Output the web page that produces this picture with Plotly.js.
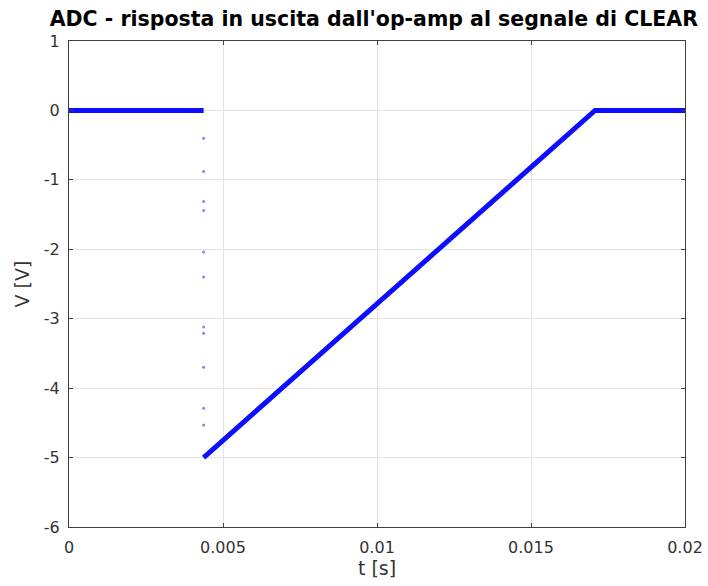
<!DOCTYPE html>
<html>
<head>
<meta charset="utf-8">
<script src="https://cdn.plot.ly/plotly-3.0.1.min.js"></script>
<style>html,body{margin:0;padding:0;background:#fff;}#chart{width:708px;height:586px;}</style>
</head>
<body>
<div id="chart"></div>
<script>
// Main trace: flat baseline, ramp after CLEAR, flat again
const tMain = [0, 0.00437, null, 0.00437, 0.00946, 0.01202, 0.01708, 0.02];
const vMain = [0, 0, null, -5, -3, -2, 0, 0];

// Sparse transition samples at the CLEAR instant
const tJump = [0.00437, 0.00437, 0.00437, 0.00437, 0.00437, 0.00437, 0.00437, 0.00437, 0.00437, 0.00437, 0.00437];
const vJump = [-0.40, -0.88, -1.31, -1.44, -2.04, -2.40, -3.12, -3.21, -3.70, -4.29, -4.53];

const xTickVals = [0, 0.005, 0.01, 0.015, 0.02];
const xTickText = ['0', '0.005', '0.01', '0.015', '0.02'];
const yTickVals = [1, 0, -1, -2, -3, -4, -5, -6];
const yTickText = ['1', '0', '-1', '-2', '-3', '-4', '-5', '-6'];

const traces = [
  {
    x: tMain, y: vMain, type: 'scatter', mode: 'lines',
    line: {color: 'rgba(0,0,255,0.95)', width: 5},
    connectgaps: false, hoverinfo: 'skip', showlegend: false
  },
  {
    x: tJump, y: vJump, type: 'scatter', mode: 'markers',
    marker: {color: 'rgba(90,90,255,0.75)', size: 3},
    hoverinfo: 'skip', showlegend: false
  }
];

const axisCommon = {
  showline: true, linecolor: '#404040', linewidth: 1, mirror: 'ticks',
  showgrid: true, gridcolor: '#e3e3e3', gridwidth: 1,
  ticks: 'inside', ticklen: 4, tickcolor: '#404040',
  zeroline: false, ticklabeloverflow: 'allow',
  tickfont: {family: 'DejaVu Sans', size: 16, color: '#333333'}
};

const layout = {
  width: 708, height: 586,
  paper_bgcolor: '#ffffff', plot_bgcolor: '#ffffff',
  margin: {l: 69, r: 23, t: 41, b: 59, pad: 0},
  title: {
    text: "<b>ADC - risposta in uscita dall'op-amp al segnale di CLEAR</b>",
    font: {family: 'DejaVu Sans', size: 20.5, color: '#000000'},
    x: 0.528, xanchor: 'center', yref: 'container', y: 0.968, yanchor: 'middle'
  },
  xaxis: Object.assign({}, axisCommon, {
    range: [0, 0.02], tickvals: xTickVals, ticktext: xTickText,
    ticklabelstandoff: 6,
    title: {text: 't [s]', font: {family: 'DejaVu Sans', size: 19, color: '#333333'}, standoff: 4}
  }),
  yaxis: Object.assign({}, axisCommon, {
    range: [-6, 1], tickvals: yTickVals, ticktext: yTickText,
    ticklabelstandoff: 5,
    title: {text: 'V [V]', font: {family: 'DejaVu Sans', size: 19, color: '#333333'}, standoff: 9}
  })
};

Plotly.newPlot('chart', traces, layout, {staticPlot: true, displayModeBar: false});
</script>
</body>
</html>
